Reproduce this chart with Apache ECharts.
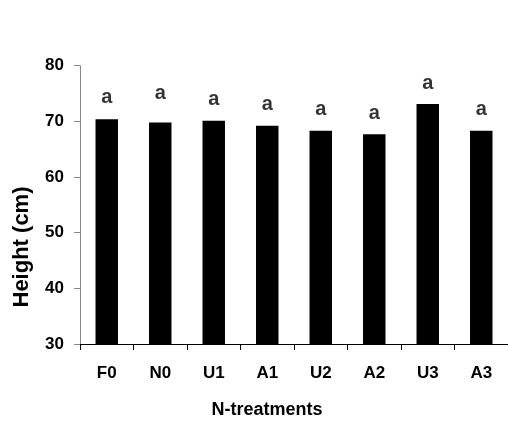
<!DOCTYPE html>
<html>
<head>
<meta charset="utf-8">
<script src="https://cdn.jsdelivr.net/npm/echarts@6/dist/echarts.min.js"></script>
<style>html,body{margin:0;padding:0;background:#fff}#c{width:508px;height:423px}</style>
</head>
<body>
<div id="c"></div>
<script>
const categories = ['F0','N0','U1','A1','U2','A2','U3','A3'];
const heights = [70.4, 69.8, 70.1, 69.2, 68.3, 67.7, 73.1, 68.3];
const letters = ['a','a','a','a','a','a','a','a'];
const letterPos = [74.2, 75.0, 74.0, 73.1, 72.2, 71.5, 76.8, 72.2];
const yTicks = [30, 40, 50, 60, 70, 80];

const font = 'Liberation Sans, Arial, sans-serif';
const chart = echarts.init(document.getElementById('c'));
chart.setOption({
  backgroundColor: '#fff',
  animation: false,
  grid: {left: 80, right: 0, top: 65.7, bottom: 79, containLabel: false},
  xAxis: {
    type: 'category',
    data: categories,
    axisLine: {lineStyle: {color: '#000', width: 1}},
    axisTick: {show: true, length: 6, lineStyle: {color: '#000'}},
    axisLabel: {margin: 21, color: '#000', fontWeight: 'bold', fontSize: 17, fontFamily: font}
  },
  yAxis: {
    type: 'value',
    min: yTicks[0],
    max: yTicks[yTicks.length - 1],
    interval: 10,
    axisLine: {show: true, lineStyle: {color: '#888', width: 1}},
    axisTick: {show: true, length: 6, lineStyle: {color: '#888'}},
    axisLabel: {margin: 16, color: '#000', fontWeight: 'bold', fontSize: 17, fontFamily: font},
    splitLine: {show: false}
  },
  series: [
    {
      type: 'bar',
      data: heights,
      barWidth: '42%',
      itemStyle: {color: '#000'}
    },
    {
      type: 'scatter',
      data: letterPos,
      symbolSize: 1,
      itemStyle: {color: 'rgba(0,0,0,0)'},
      label: {
        show: true,
        position: 'inside',
        formatter: p => letters[p.dataIndex],
        color: '#000',
        fontWeight: 'bold',
        fontSize: 20,
        fontFamily: font
      }
    }
  ],
  graphic: [
    {
      type: 'text',
      x: 22, y: 247,
      rotation: Math.PI / 2,
      style: {text: 'Height (cm)', font: 'bold 22px ' + font, fill: '#000', align: 'center', verticalAlign: 'middle'}
    },
    {
      type: 'text',
      x: 267, y: 410,
      style: {text: 'N-treatments', font: 'bold 18px ' + font, fill: '#000', align: 'center', verticalAlign: 'middle'}
    }
  ]
});
</script>
</body>
</html>
